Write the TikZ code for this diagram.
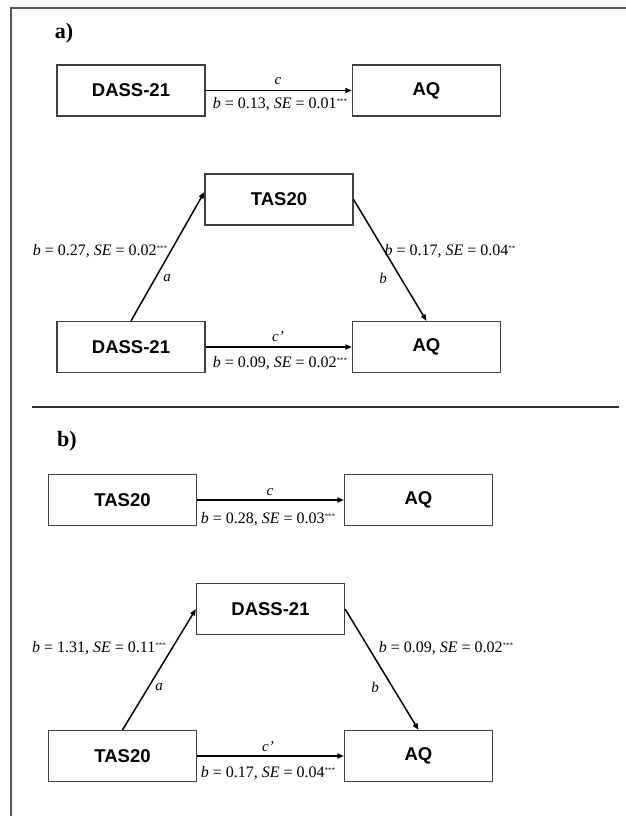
\documentclass[tikz,border=0pt]{standalone}
\usepackage{fontspec}
\setmainfont{Liberation Serif}
\newfontfamily\boxfont{Liberation Sans}
\usetikzlibrary{arrows.meta}
\newcommand{\sigstars}[1]{\raisebox{0.6ex}{\fontsize{7}{7}\selectfont #1}}
\begin{document}
\begin{tikzpicture}[x=1pt,y=-1pt,
  varbox/.style={draw=black!75, line width=1.2pt, minimum width=148pt, minimum height=51pt, inner sep=0pt, font=\boxfont\bfseries\fontsize{18.5}{20}\selectfont},
  conn/.style={-{Triangle[length=6.5pt,width=5pt]}, line width=1.5pt, black},
  coef/.style={font=\fontsize{16}{18}\selectfont, inner sep=0pt},
  pathlab/.style={font=\itshape\fontsize{15}{17}\selectfont, inner sep=0pt},
  panellab/.style={font=\bfseries\fontsize{22}{24}\selectfont, inner sep=0pt},
  framestyle/.style={draw=black!65, line width=1.3pt}]
\useasboundingbox (0,0) rectangle (626,816);

% frame
\coordinate (fbl) at (11,816);
\coordinate (ftl) at (11,8);
\coordinate (ftr) at (626,8);
\draw[framestyle] (fbl) -- (ftl) -- (ftr);
\coordinate (sepl) at (32,407);
\coordinate (sepr) at (619,407);
\draw[draw=black!80, line width=2pt] (sepl) -- (sepr);

% ---------- panel a ----------
\node[panellab] (pa) at (64,33) {a)};

\node[varbox] (ax) at (131,90.5) {DASS-21};
\node[varbox] (ay) at (426.5,90.5) {AQ};
\draw[conn] (ax.east) -- (ay.west);
\node[pathlab] (ac) at (278,81) {c};
\node[coef] (acoef) at (280,104) {\textit{b} = 0.13, \textit{SE} = 0.01\sigstars{***}};

\node[varbox] (am) at (279,199.5) {TAS20};
\node[varbox] (ax2) at (131,347) {DASS-21};
\node[varbox] (ay2) at (426.5,347) {AQ};
\draw[conn] (ax2.north) -- ([yshift=7.5pt]am.west);
\draw[conn] (am.east) -- (ay2.north);
\draw[conn] (ax2.east) -- (ay2.west);
\node[coef] (aacoef) at (100,251) {\textit{b} = 0.27, \textit{SE} = 0.02\sigstars{***}};
\node[pathlab] (aa) at (167,278) {a};
\node[coef] (abcoef) at (450,251) {\textit{b} = 0.17, \textit{SE} = 0.04\sigstars{**}};
\node[pathlab] (ab) at (383,278) {b};
\node[pathlab] (acp) at (278,337) {c’};
\node[coef] (acpcoef) at (280,363) {\textit{b} = 0.09, \textit{SE} = 0.02\sigstars{***}};

% ---------- panel b ----------
\node[panellab] (pb) at (67,441) {b)};

\node[varbox] (bx) at (122.5,500) {TAS20};
\node[varbox] (by) at (418.5,500) {AQ};
\draw[conn] (bx.east) -- (by.west);
\node[pathlab] (bc) at (270,492) {c};
\node[coef] (bcoef) at (268,519) {\textit{b} = 0.28, \textit{SE} = 0.03\sigstars{***}};

\node[varbox] (bm) at (270.5,609) {DASS-21};
\node[varbox] (bx2) at (122.5,756) {TAS20};
\node[varbox] (by2) at (418.5,756) {AQ};
\draw[conn] (bx2.north) -- (bm.west);
\draw[conn] (bm.east) -- (by2.north);
\draw[conn] (bx2.east) -- (by2.west);
\node[coef] (bacoef) at (99,648) {\textit{b} = 1.31, \textit{SE} = 0.11\sigstars{***}};
\node[pathlab] (ba) at (159,687) {a};
\node[coef] (bbcoef) at (446,648) {\textit{b} = 0.09, \textit{SE} = 0.02\sigstars{***}};
\node[pathlab] (bb) at (375,687) {b};
\node[pathlab] (bcp) at (268,747) {c’};
\node[coef] (bcpcoef) at (268,773) {\textit{b} = 0.17, \textit{SE} = 0.04\sigstars{***}};
\end{tikzpicture}
\end{document}
